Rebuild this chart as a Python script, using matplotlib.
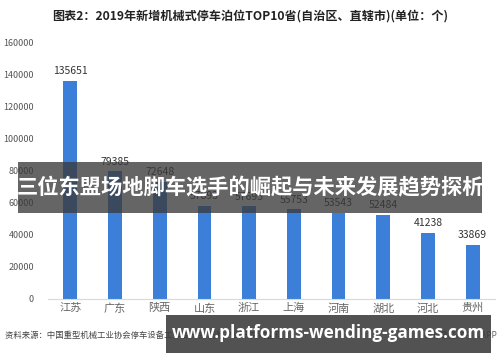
import matplotlib.pyplot as plt
from matplotlib.patches import Rectangle

plt.rcParams['font.family'] = ['Noto Sans CJK SC', 'DejaVu Sans']

# data
provinces = ['江苏', '广东', '陕西', '山东', '浙江', '上海', '河南', '湖北', '河北', '贵州']
spaces = [135651, 79385, 72648, 57893, 57695, 55753, 53543, 52484, 41238, 33869]
yticks = [0, 20000, 40000, 60000, 80000, 100000, 120000, 140000, 160000]

title = '图表2：2019年新增机械式停车泊位TOP10省(自治区、直辖市)(单位：个)'
source = '资料来源：中国重型机械工业协会停车设备工作委员会 前瞻产业研究院整理'
credit = '@前瞻经济学人APP'
banner = '三位东盟场地脚车选手的崛起与未来发展趋势探析'
site = 'www.platforms-wending-games.com'

fig = plt.figure(figsize=(5, 3.62), dpi=100)
ax = fig.add_axes([48 / 500, 1 - 299 / 362, 447 / 500, 257 / 362])

x = range(len(provinces))
ax.bar(x, spaces, width=0.31, color='#3b7fd8', zorder=2)
for i, v in zip(x, spaces):
    ax.text(i, v + 3000, str(v), ha='center', va='bottom', fontsize=7.5, color='#333333')

ax.set_xlim(-0.5, len(provinces) - 0.5)
ax.set_ylim(0, 160000)
ax.set_yticks(yticks)
ax.set_yticklabels([str(t) for t in yticks], fontsize=6.5, color='#555555')
ax.set_xticks(list(x))
ax.set_xticklabels(provinces, fontsize=8, color='#666666')
ax.tick_params(axis='y', length=0, pad=10)
ax.tick_params(axis='x', length=0, pad=3)
for s in ['top', 'right', 'left']:
    ax.spines[s].set_visible(False)
ax.spines['bottom'].set_color('#d9d9d9')

fig.text(0.5, 1 - 16 / 362, title, ha='center', va='center', fontsize=8.7, fontweight='bold', color='#222222')
fig.text(5 / 500, 1 - 335 / 362, source, ha='left', va='center', fontsize=6, color='#444444')
fig.text(497 / 500, 1 - 335 / 362, credit, ha='right', va='center', fontsize=6, color='#666666')

# overlays
fig.patches.append(Rectangle((18 / 500, 1 - 213 / 362), 464 / 500, 51 / 362, transform=fig.transFigure,
                             facecolor='#3a3a3a', alpha=0.78, edgecolor='none', zorder=5))
fig.text(250 / 500, 1 - 188 / 362, banner, ha='center', va='center', fontsize=15.3, fontweight='bold',
         color='white', zorder=6)
fig.patches.append(Rectangle((166 / 500, 1 - 353 / 362), 325 / 500, 38 / 362, transform=fig.transFigure,
                             facecolor='#3a3a3a', alpha=0.88, edgecolor='none', zorder=5))
fig.text(328 / 500, 1 - 333 / 362, site, ha='center', va='center', fontsize=12.3, fontweight='bold',
         color='white', family='Open Sans', zorder=6)

fig.savefig('out.png', dpi=100)
